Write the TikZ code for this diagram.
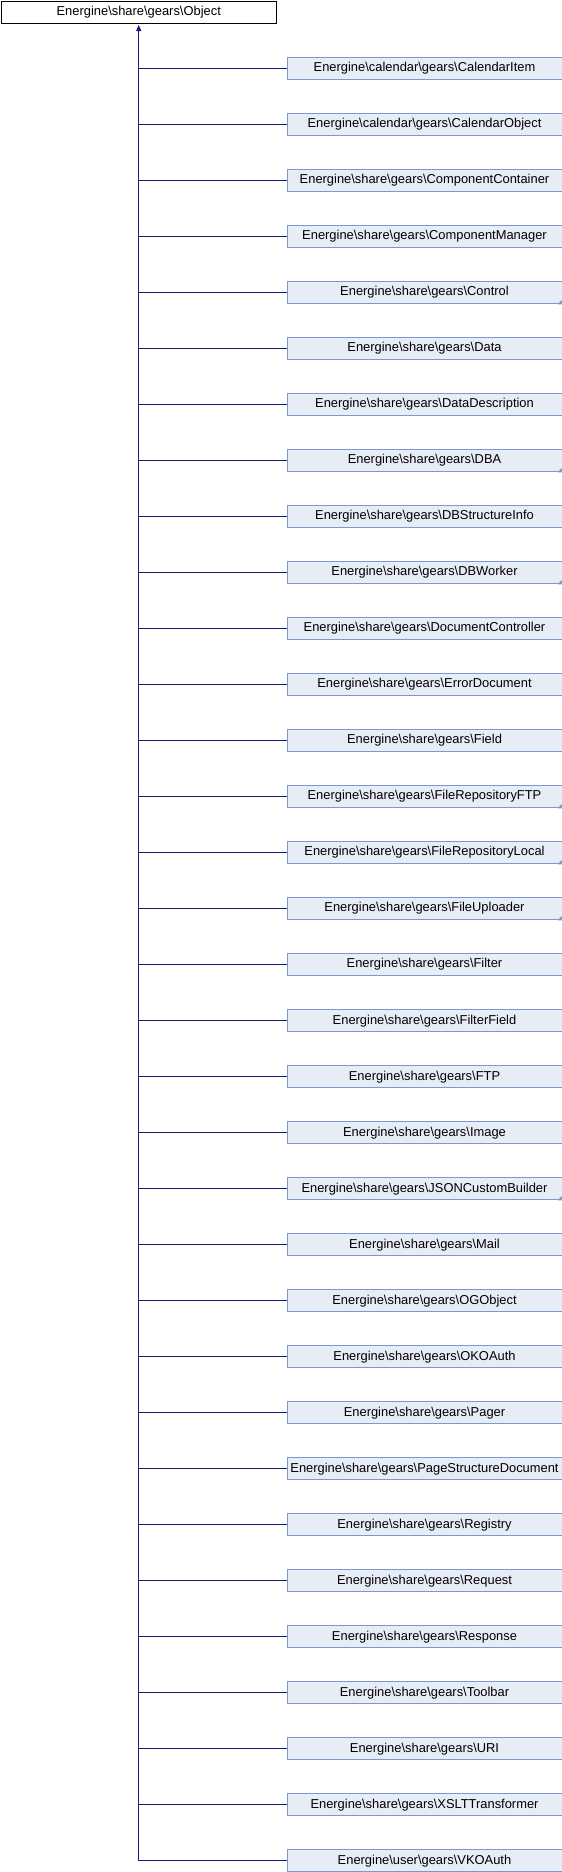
\documentclass[tikz,border=0pt]{standalone}
\usepackage{fontspec}
\setmainfont{Liberation Sans}
\usetikzlibrary{arrows.meta}
\definecolor{boxfill}{HTML}{E8ECF6}
\definecolor{boxdraw}{HTML}{7C98CC}
\definecolor{edgecol}{HTML}{191970}
\newcommand\Bsl{\textbackslash}
\begin{document}
\begin{tikzpicture}[x=1pt,y=1pt,
  lblfont/.style={font=\fontsize{12.9}{14}\selectfont},
  basebox/.style={draw=black, fill=white, line width=1pt, minimum width=275.5pt,
    minimum height=22.5pt, inner sep=0pt, anchor=north west, lblfont},
  childbox/.style={draw=boxdraw, fill=boxfill, line width=1pt, minimum width=275pt,
    minimum height=22.3pt, inner sep=0pt, anchor=north west, lblfont},
  edge/.style={draw=edgecol, line width=1.1pt}]
\useasboundingbox (0,0) rectangle (562,-1872);
\node[basebox] (top) at (0.5,-0.5) {Energine\Bsl share\Bsl gears\Bsl Object};
\foreach \lbl [count=\i from 0] in {
  Energine\Bsl calendar\Bsl gears\Bsl CalendarItem,
  Energine\Bsl calendar\Bsl gears\Bsl CalendarObject,
  Energine\Bsl share\Bsl gears\Bsl ComponentContainer,
  Energine\Bsl share\Bsl gears\Bsl ComponentManager,
  Energine\Bsl share\Bsl gears\Bsl Control,
  Energine\Bsl share\Bsl gears\Bsl Data,
  Energine\Bsl share\Bsl gears\Bsl DataDescription,
  Energine\Bsl share\Bsl gears\Bsl DBA,
  Energine\Bsl share\Bsl gears\Bsl DBStructureInfo,
  Energine\Bsl share\Bsl gears\Bsl DBWorker,
  Energine\Bsl share\Bsl gears\Bsl DocumentController,
  Energine\Bsl share\Bsl gears\Bsl ErrorDocument,
  Energine\Bsl share\Bsl gears\Bsl Field,
  Energine\Bsl share\Bsl gears\Bsl FileRepositoryFTP,
  Energine\Bsl share\Bsl gears\Bsl FileRepositoryLocal,
  Energine\Bsl share\Bsl gears\Bsl FileUploader,
  Energine\Bsl share\Bsl gears\Bsl Filter,
  Energine\Bsl share\Bsl gears\Bsl FilterField,
  Energine\Bsl share\Bsl gears\Bsl FTP,
  Energine\Bsl share\Bsl gears\Bsl Image,
  Energine\Bsl share\Bsl gears\Bsl JSONCustomBuilder,
  Energine\Bsl share\Bsl gears\Bsl Mail,
  Energine\Bsl share\Bsl gears\Bsl OGObject,
  Energine\Bsl share\Bsl gears\Bsl OKOAuth,
  Energine\Bsl share\Bsl gears\Bsl Pager,
  Energine\Bsl share\Bsl gears\Bsl PageStructureDocument,
  Energine\Bsl share\Bsl gears\Bsl Registry,
  Energine\Bsl share\Bsl gears\Bsl Request,
  Energine\Bsl share\Bsl gears\Bsl Response,
  Energine\Bsl share\Bsl gears\Bsl Toolbar,
  Energine\Bsl share\Bsl gears\Bsl URI,
  Energine\Bsl share\Bsl gears\Bsl XSLTTransformer,
  Energine\Bsl user\Bsl gears\Bsl VKOAuth}
{
  \node[childbox] (c\i) at (286.5,{-57-56*\i}) {\lbl};
  \draw[edge] (c\i.west) -- (c\i.west -| top.south);
}
\foreach \j in {4,7,9,13,14,15,20}
  \fill[boxdraw] (c\j.south east) -- ++(-5,0) -- ++(5,5) -- cycle;
\draw[edge, {Triangle[length=6pt,width=5pt]}-, shorten <=1pt] (top.south) -- (c32.west -| top.south);
\end{tikzpicture}
\end{document}
